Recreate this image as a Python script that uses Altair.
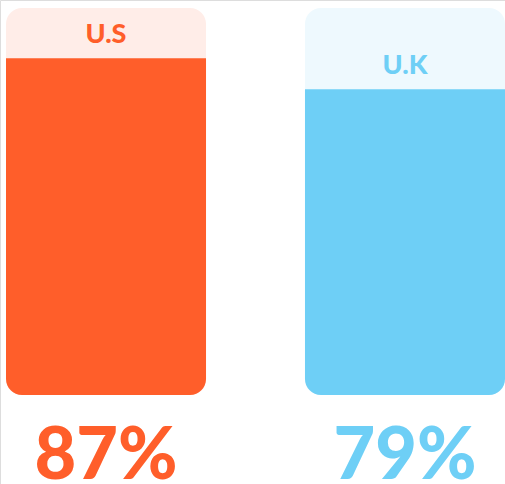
import altair as alt
import pandas as pd

countries = ["U.S", "U.K"]
values = [87, 79]
labels = ["87%", "79%"]
main_colors = ["#FF5E2A", "#6ECFF6"]
bg_colors = ["#FFEDE8", "#EEF9FE"]

df = pd.DataFrame({
    "country": countries,
    "value": values,
    "label": labels,
    "full": [100] * len(countries),
    "zero": [0] * len(countries),
})

x = alt.X("country:N", sort=countries, axis=None,
          scale=alt.Scale(range=[6, 505], paddingInner=0.331, paddingOuter=0))
yscale = alt.Scale(domain=[0, 100], range=[395, 8])
main_color = alt.Color("country:N", scale=alt.Scale(domain=countries, range=main_colors), legend=None)
bg_color = alt.Color("country:N", scale=alt.Scale(domain=countries, range=bg_colors), legend=None)

base = alt.Chart(df)

bg = base.mark_bar(cornerRadius=16).encode(
    x=x, y=alt.Y("full:Q", scale=yscale, axis=None), y2="zero:Q", color=bg_color
)

fill = base.mark_bar(cornerRadiusBottomLeft=16, cornerRadiusBottomRight=16).encode(
    x=x, y=alt.Y("value:Q", scale=yscale, axis=None), y2="zero:Q", color=main_color
)

name = base.mark_text(font="Lato", fontWeight=900, fontSize=27, dy=-15, baseline="alphabetic").encode(
    x=x, y=alt.Y("value:Q", scale=yscale, axis=None), text="country:N", color=main_color
)

pct = base.mark_text(font="Lato", fontWeight=900, fontSize=72, dy=84, baseline="alphabetic").encode(
    x=x, y=alt.Y("zero:Q", scale=yscale, axis=None), text="label:N", color=main_color
)

chart = alt.layer(bg, fill, name, pct).resolve_scale(color="independent").properties(
    width=505, height=484, padding=0, autosize=alt.AutoSizeParams(type="none")
).configure_view(stroke=None).configure(background="white")

chart.save("out.html", embed_options={"renderer": "svg", "actions": False})
